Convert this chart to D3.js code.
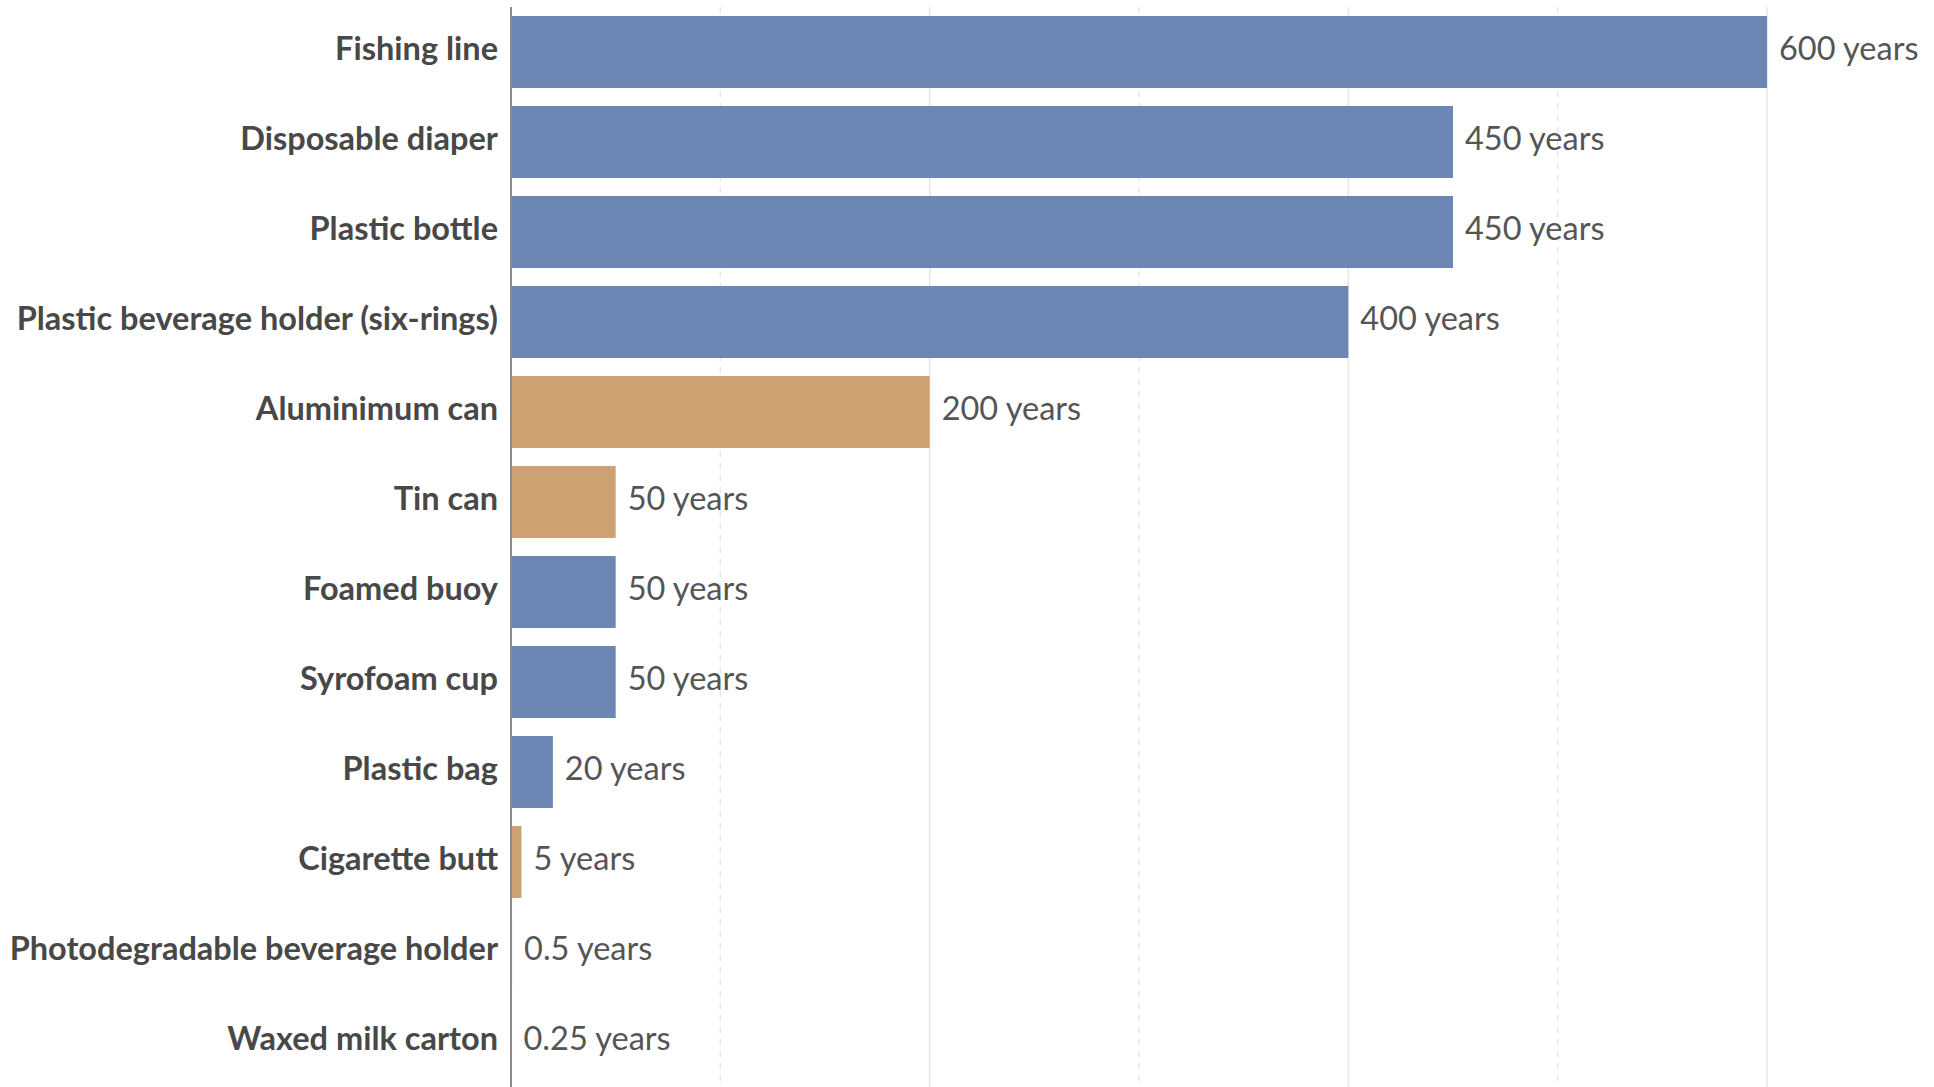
<!DOCTYPE html>
<html>
<head>
<meta charset="utf-8">
<script src="https://cdn.jsdelivr.net/npm/d3@7"></script>
<style>
  html, body { margin: 0; padding: 0; background: #ffffff; }
  svg { display: block; }
</style>
</head>
<body>
<svg id="chart" width="1934" height="1087"></svg>
<script>
// Years for each item to decompose
const items = [
  "Fishing line",
  "Disposable diaper",
  "Plastic bottle",
  "Plastic beverage holder (six-rings)",
  "Aluminimum can",
  "Tin can",
  "Foamed buoy",
  "Syrofoam cup",
  "Plastic bag",
  "Cigarette butt",
  "Photodegradable beverage holder",
  "Waxed milk carton"
];
const years = [600, 450, 450, 400, 200, 50, 50, 50, 20, 5, 0.5, 0.25];
const valueLabels = ["600 years", "450 years", "450 years", "400 years", "200 years",
  "50 years", "50 years", "50 years", "20 years", "5 years", "0.5 years", "0.25 years"];
// Material group: plastic vs metal/other
const groups = ["plastic", "plastic", "plastic", "plastic", "metal", "metal",
  "plastic", "plastic", "plastic", "metal", "plastic", "plastic"];
const gridTicks = [100, 200, 300, 400, 500, 600];

const plotLeft = 511, plotRight = 1767, plotTop = 7, plotBottom = 1087;
const fontSize = 32.5;

const svg = d3.select("#chart");

const x = d3.scaleLinear().domain([0, 600]).range([plotLeft, plotRight]);
const y = d3.scaleBand().domain(items).range([plotTop, plotBottom])
  .paddingInner(0.2).paddingOuter(0.1);
const color = d3.scaleOrdinal().domain(["plastic", "metal"]).range(["#6c87b4", "#cda272"]);

// Vertical gridlines: odd hundreds dashed, even hundreds solid
svg.append("g").selectAll("line")
  .data(gridTicks)
  .join("line")
  .attr("x1", d => x(d)).attr("x2", d => x(d))
  .attr("y1", plotTop).attr("y2", plotBottom)
  .attr("stroke", "#e6e6e6")
  .attr("stroke-width", 1.5)
  .attr("stroke-dasharray", d => (d / 100) % 2 === 1 ? "6,6" : null);

const rows = items.map((name, i) => ({ name, value: years[i], label: valueLabels[i], group: groups[i] }));

// Bars
svg.append("g").selectAll("rect")
  .data(rows)
  .join("rect")
  .attr("x", x(0))
  .attr("y", d => y(d.name))
  .attr("width", d => x(d.value) - x(0))
  .attr("height", y.bandwidth())
  .attr("fill", d => color(d.group));

// Category axis
const yAxis = d3.axisLeft(y).tickSize(0).tickPadding(13);
const ax = svg.append("g")
  .attr("transform", `translate(${plotLeft},0)`)
  .call(yAxis);
ax.select(".domain").attr("stroke", "#8c8c8c").attr("stroke-width", 2)
  .attr("d", `M0,${plotTop}V${plotBottom}`);
ax.selectAll("text")
  .attr("dy", "0.26em")
  .attr("font-family", "Lato, 'Open Sans', sans-serif")
  .attr("font-weight", "bold")
  .attr("font-size", fontSize)
  .attr("fill", "#484848");

// Value labels
svg.append("g").selectAll("text")
  .data(rows)
  .join("text")
  .attr("x", d => x(d.value) + 12)
  .attr("y", d => y(d.name) + y.bandwidth() / 2)
  .attr("dy", "0.26em")
  .attr("font-family", "Lato, 'Open Sans', sans-serif")
  .attr("font-size", fontSize)
  .attr("fill", "#555555")
  .text(d => d.label);
</script>
</body>
</html>
